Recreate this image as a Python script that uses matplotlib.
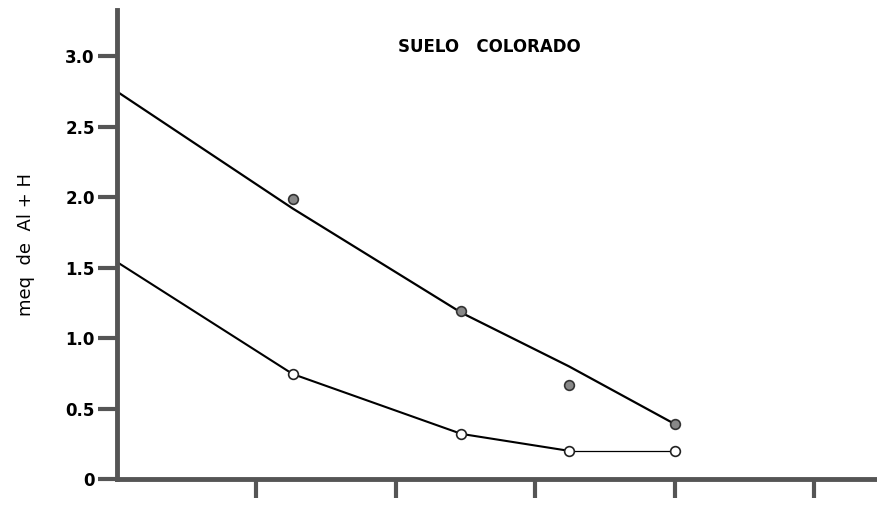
import numpy as np
import matplotlib.pyplot as plt

x_pts = [0.0, 1.26, 2.47, 3.24, 4.0]
y_llenos = [2.75, 1.99, 1.19, 0.67, 0.39]     # circulos llenos
y_vacios = [1.54, 0.745, 0.32, 0.20, 0.20]    # circulos vacios

# Curva suavizada trazada a mano por los puntos llenos
x_curva = [0.0, 1.26, 2.47, 3.24, 4.0]
y_curva = [2.75, 1.92, 1.18, 0.80, 0.39]

yticks = [0, 0.5, 1.0, 1.5, 2.0, 2.5, 3.0]
ytick_labels = ['0', '0.5', '1.0', '1.5', '2.0', '2.5', '3.0']
xticks = [1, 2, 3, 4, 5]

fig = plt.figure(figsize=(8.77, 5.05), dpi=100)
ax = fig.add_axes([0.1334, 0.0515, 0.8666, 0.929])

ax.plot(x_curva, y_curva, color='black', lw=1.6, zorder=2)
ax.plot(x_pts[:4], y_vacios[:4], color='black', lw=1.5, zorder=2)
ax.plot(x_pts[3:], y_vacios[3:], color='black', lw=0.9, zorder=2)

ax.plot(x_pts[1:], y_llenos[1:], 'o', ms=7, mfc='#888888', mec='#333333', mew=1.2, zorder=3)
ax.plot(x_pts[1:], y_vacios[1:], 'o', ms=7, mfc='white', mec='#222222', mew=1.2, zorder=3)

ax.set_xlim(0, 5.45)
ax.set_ylim(0, 3.33)

for s in ['top', 'right']:
    ax.spines[s].set_visible(False)
for s in ['left', 'bottom']:
    ax.spines[s].set_linewidth(3.5)
    ax.spines[s].set_color('#555555')

ax.set_yticks(yticks)
ax.set_yticklabels(ytick_labels, fontsize=12, fontweight='bold')
ax.set_xticks(xticks)
ax.set_xticklabels([])
ax.tick_params(axis='both', direction='out', length=14, width=3, color='#555555')
ax.tick_params(axis='y', pad=2)

ax.set_ylabel('meq  de  Al + H', fontsize=13, labelpad=22)
ax.text(0.49, 0.921, 'SUELO   COLORADO', transform=ax.transAxes,
        fontsize=12, fontweight='bold', ha='center', va='center')

plt.savefig('out.png', dpi=100)
